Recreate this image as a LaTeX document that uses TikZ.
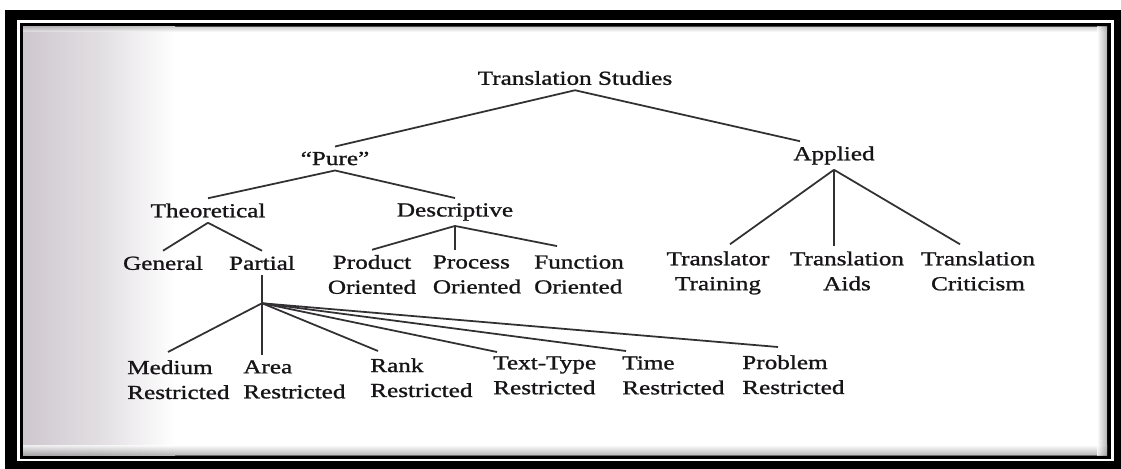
\documentclass[tikz,border=0pt]{standalone}
\usepackage{fontspec}
\setmainfont{Liberation Serif}[FakeStretch=1.27,FakeBold=1.1]
\usepackage{tikz}
\usetikzlibrary{positioning,calc}
\definecolor{ink}{RGB}{22,20,22}
\definecolor{linegray}{RGB}{50,48,50}
\definecolor{paper}{RGB}{206,200,206}

\begin{document}
\begin{tikzpicture}[x=0.02cm, y=-0.02cm,
    lbl/.style={inner sep=1pt, outer sep=2pt, text=ink, align=center,
      font=\fontsize{11.3pt}{14.2pt}\selectfont},
    leaf/.style={lbl, align=left, anchor=north west},
    branch/.style={draw=linegray, line width=1pt}]
  \useasboundingbox (0,0) rectangle (1121,469);

  % frame and scanned page
  \fill[black] (5,10) rectangle (1121,469);
  \draw[white, line width=1.7pt] (18.5,21.5) rectangle (1112.5,460);
  \fill[white] (23,27) rectangle (1107,455);
  \shade[left color=paper, right color=white, middle color=paper!60] (23,27) rectangle (175,455);
  \shade[top color=gray!70, bottom color=white, opacity=.5] (23,27) rectangle (1107,32);
  \shade[top color=white, bottom color=gray!80, opacity=.7] (23,445) rectangle (1107,455);
  \shade[left color=white, right color=gray!80, opacity=.7] (1097,27) rectangle (1107,455);

  % levels 1 and 2
  \node (ts)[lbl] at (575,78) {Translation Studies};
  \node (pure)[lbl] at (335,158.5) {“Pure”};
  \node (applied)[lbl] at (834,155.5) {Applied};
  \node (theo)[lbl] at (208,210.5) {Theoretical};
  \node (desc)[lbl] at (455,212) {Descriptive};

  % level 3
  \node (general)[lbl] at (163,263) {General};
  \node (partial)[lbl] at (262,263) {Partial};
  \node (product)[lbl] at (372,274.5) {Product\\Oriented};
  \node (process)[lbl, align=left] at (477,274.5) {Process\\Oriented};
  \node (function)[lbl, align=left] at (579,274.5) {Function\\Oriented};
  \node (trainer)[lbl] at (718,273) {Translator\\Training};
  \node (aids)[lbl] at (847,271) {Translation\\Aids};
  \node (critic)[lbl] at (978,271) {Translation\\Criticism};

  % partial studies
  \node (medium)[leaf] at (122,355) {Medium\\Restricted};
  \node (area)[leaf] at (238,355) {Area\\Restricted};
  \node (rank)[leaf] at (365,353) {Rank\\Restricted};
  \node (texttype)[leaf] at (488,351) {Text-Type\\Restricted};
  \node (time)[leaf] at (617,351) {Time\\Restricted};
  \node (problem)[leaf] at (737,350) {Problem\\Restricted};

  \draw[branch] (ts.south) -- (pure.north);
  \draw[branch] (ts.south) -- ($(applied.north)+(-34,0)$);
  \draw[branch] (pure.south) -- (theo.north);
  \draw[branch] (pure.south) -- (desc.north);
  \draw[branch] (theo.south) -- (general.north);
  \draw[branch] (theo.south) -- (partial.north);
  \draw[branch] (desc.south) -- (product.north);
  \draw[branch] (desc.south) -- (desc.south |- process.north);
  \draw[branch] (desc.south) -- ($(function.north)+(-22,-4)$);
  \draw[branch] (applied.south) -- ($(trainer.north)+(12,-2)$);
  \draw[branch] (applied.south) -- (applied.south |- aids.north);
  \draw[branch] (applied.south) -- ($(critic.north)+(-18,-2)$);

  \draw[branch] (partial.south) -- ++(0,28) coordinate (hub);
  \draw[branch] (hub) -- ($(medium.north west)+(46,-3)$);
  \draw[branch] (hub) -- (hub |- area.north);
  \draw[branch] (hub) -- ($(rank.north west)+(13,-2)$);
  \draw[branch] (hub) -- ($(texttype.north west)+(9,1)$);
  \draw[branch] (hub) -- ($(time.north west)+(9,0)$);
  \draw[branch] (hub) -- ($(problem.north west)+(41,-3)$);
\end{tikzpicture}
\end{document}
